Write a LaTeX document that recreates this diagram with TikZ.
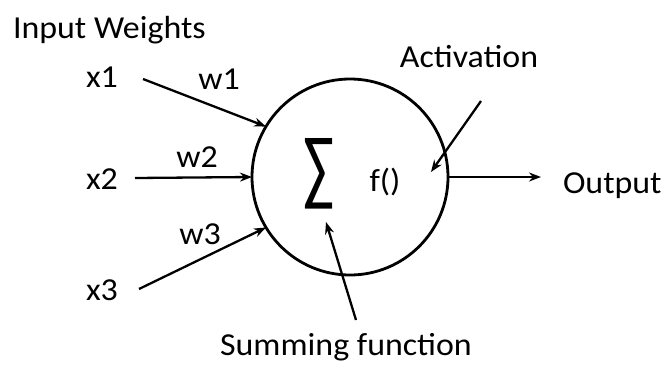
\documentclass[tikz,border=0pt]{standalone}
\usepackage{fontspec}
\setmainfont{Carlito}
\usetikzlibrary{arrows.meta}
\newcommand{\sxt}[1]{\scalebox{1.06}[1]{#1}}
\begin{document}
\begin{tikzpicture}[x=1pt,y=-1pt,
  lbl/.style={font=\fontsize{32}{38}\selectfont, inner sep=0, outer sep=0, anchor=base},
  arr/.style={line width=2.3pt, -{Stealth[length=12pt,width=9pt]}}]
\useasboundingbox (0,0) rectangle (662,365);
\node[draw, circle, line width=2.8pt, minimum size=196pt, inner sep=0, outer sep=0] (c) at (350,177) {};
\node[lbl, anchor=base west] (iw) at (13,38) {\sxt{Input Weights}};
\node[lbl] (x1) at (102,87) {\sxt{x1}};
\node[lbl] (w1) at (219,89) {\sxt{w1}};
\node[lbl] (x2) at (102,189) {\sxt{x2}};
\node[lbl] (w2) at (197,167) {\sxt{w2}};
\node[lbl] (w3) at (200,244) {\sxt{w3}};
\node[lbl] (x3) at (102,300) {\sxt{x3}};
\node[lbl] (act) at (469,67) {\sxt{Activation}};
\node[lbl, anchor=base west] (out) at (563,193) {\sxt{Output}};
\node[lbl] (sf) at (346,355) {\sxt{Summing function}};
\node[inner sep=0, outer sep=0] (sig) at (318.5,173.5) {\resizebox{31pt}{57pt}{∑}};
\node[lbl] (f) at (385,191) {\sxt{f()}};
\coordinate (s1) at (143,79);
\coordinate (s2) at (135,178);
\coordinate (s3) at (139,289);
\coordinate (a1) at (481,101);
\coordinate (a2) at (431,172);
\coordinate (b1) at (356,320);
\coordinate (b2) at (326,222);
\coordinate (oe) at (541,177);
\draw[arr] (s1) -- (c.149);
\draw[arr] (s2) -- (c.180);
\draw[arr] (s3) -- (c.211);
\draw[arr] (a1) -- (a2);
\draw[arr] (b1) -- (b2);
\draw[arr] (c.east) -- (oe);
\end{tikzpicture}
\end{document}
